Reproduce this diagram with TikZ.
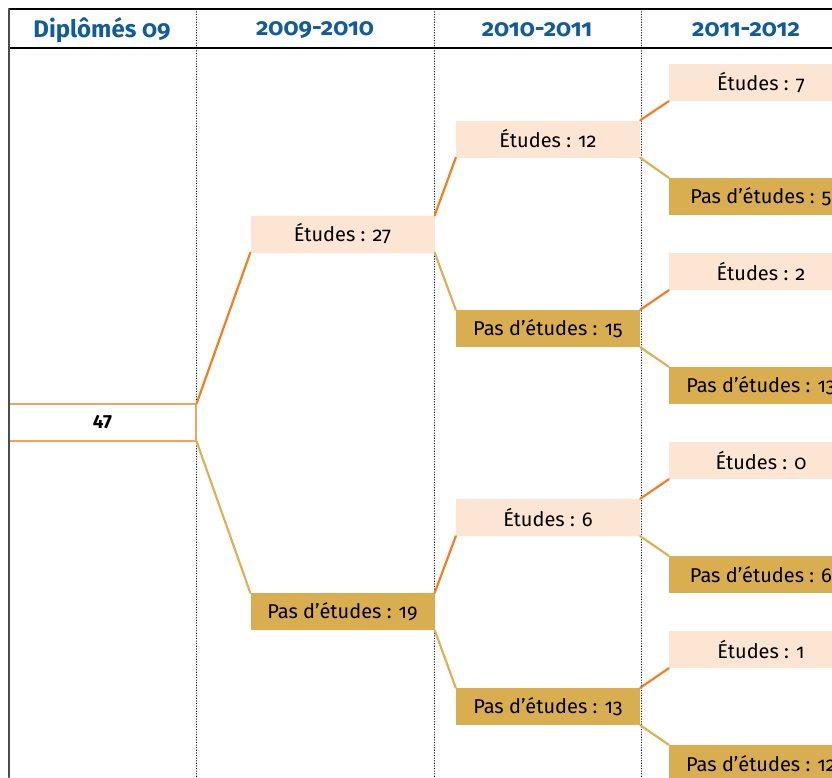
\documentclass[tikz,border=0pt]{standalone}
\usepackage{fontspec}
\setmainfont{Fira Sans}[Numbers=OldStyle]
\usepackage{tikz}
\usetikzlibrary{positioning}
\definecolor{peach}{HTML}{FCE5D3}
\definecolor{gold}{HTML}{D9AE50}
\definecolor{forkorange}{HTML}{F37F22}
\definecolor{forkgold}{HTML}{DDB257}
\definecolor{lightorange}{HTML}{F6A25E}
\definecolor{headblue}{HTML}{135C9C}
\tikzset{
  etudes/.style={fill=peach, minimum width=184pt, minimum height=37pt, inner sep=0pt, font=\fontsize{20}{24}\selectfont},
  pasetudes/.style={fill=gold, minimum width=184pt, minimum height=37pt, inner sep=0pt, font=\fontsize{20}{24}\selectfont},
  heading/.style={text=headblue, font=\fontsize{24}{28}\selectfont\bfseries},
  yesline/.style={forkorange, line width=2.2pt},
  noline/.style={forkgold, line width=2.2pt}
}

\begin{document}
\begin{tikzpicture}[line cap=round,line join=round, x=1pt,y=-1pt]
\clip (0,0) rectangle (832,777);
\fill[white] (0,0) rectangle (832,777);
% column separators
\foreach \x in {196,434,641}
  \draw [dotted, line width=0.6pt] (\x,9) -- (\x,777);
% headings
\node [heading] (hdip) at (102,30) {Diplômés 09};
\node [heading] (h0910) at (315,30) {2009-2010};
\node [heading] (h1011) at (537,30) {2010-2011};
\node [heading] (h1112) at (746,30) {2011-2012};
% start box
\node [draw=lightorange, line width=1.4pt, minimum width=187pt, minimum height=37pt, inner sep=0pt,
       font=\fontsize{19}{22}\selectfont\addfontfeatures{Numbers=Lining}\bfseries] (n47) at (102.5,422.5) {47};
% 2009-2010
\node [etudes] (e27) at (342.5,234) {Études : 27};
\node [pasetudes] (p19) at (342.5,611.5) {Pas d'études : 19};
% 2010-2011
\node [etudes] (e12) at (548,139) {Études : 12};
\node [pasetudes] (p15) at (548,328.5) {Pas d'études : 15};
\node [etudes] (e6) at (548,517.5) {Études : 6};
\node [pasetudes] (p13a) at (548,706.5) {Pas d'études : 13};
% 2011-2012
\node [etudes] (e7) at (761,82.5) {Études : 7};
\node [pasetudes] (p5) at (761,196.5) {Pas d'études : 5};
\node [etudes] (e2) at (761,271.5) {Études : 2};
\node [pasetudes] (p13b) at (761,385.5) {Pas d'études : 13};
\node [etudes] (e0) at (761,460.5) {Études : 0};
\node [pasetudes] (p6) at (761,574.5) {Pas d'études : 6};
\node [etudes] (e1) at (761,649.5) {Études : 1};
\node [pasetudes] (p12) at (761,763.5) {Pas d'études : 12};
% forks
\draw [yesline] (n47.north east) -- (e27.south west);
\draw [noline] (n47.south east) -- (p19.north west);
\draw [yesline] (e27.north east) -- (e12.south west);
\draw [noline] (e27.south east) -- (p15.north west);
\draw [yesline] (p19.north east) -- (e6.south west);
\draw [noline] (p19.south east) -- (p13a.north west);
\draw [yesline] (e12.north east) -- (e7.south west);
\draw [noline] (e12.south east) -- (p5.north west);
\draw [yesline] (p15.north east) -- (e2.south west);
\draw [noline] (p15.south east) -- (p13b.north west);
\draw [yesline] (e6.north east) -- (e0.south west);
\draw [noline] (e6.south east) -- (p6.north west);
\draw [yesline] (p13a.north east) -- (e1.south west);
\draw [noline] (p13a.south east) -- (p12.north west);
% frame
\draw [line width=1.2pt] (9,9) -- (832,9);
\draw [line width=1.6pt] (9,48) -- (832,48);
\draw [gray!60!black, line width=2pt] (9,9) -- (9,777);
\end{tikzpicture}
\end{document}
